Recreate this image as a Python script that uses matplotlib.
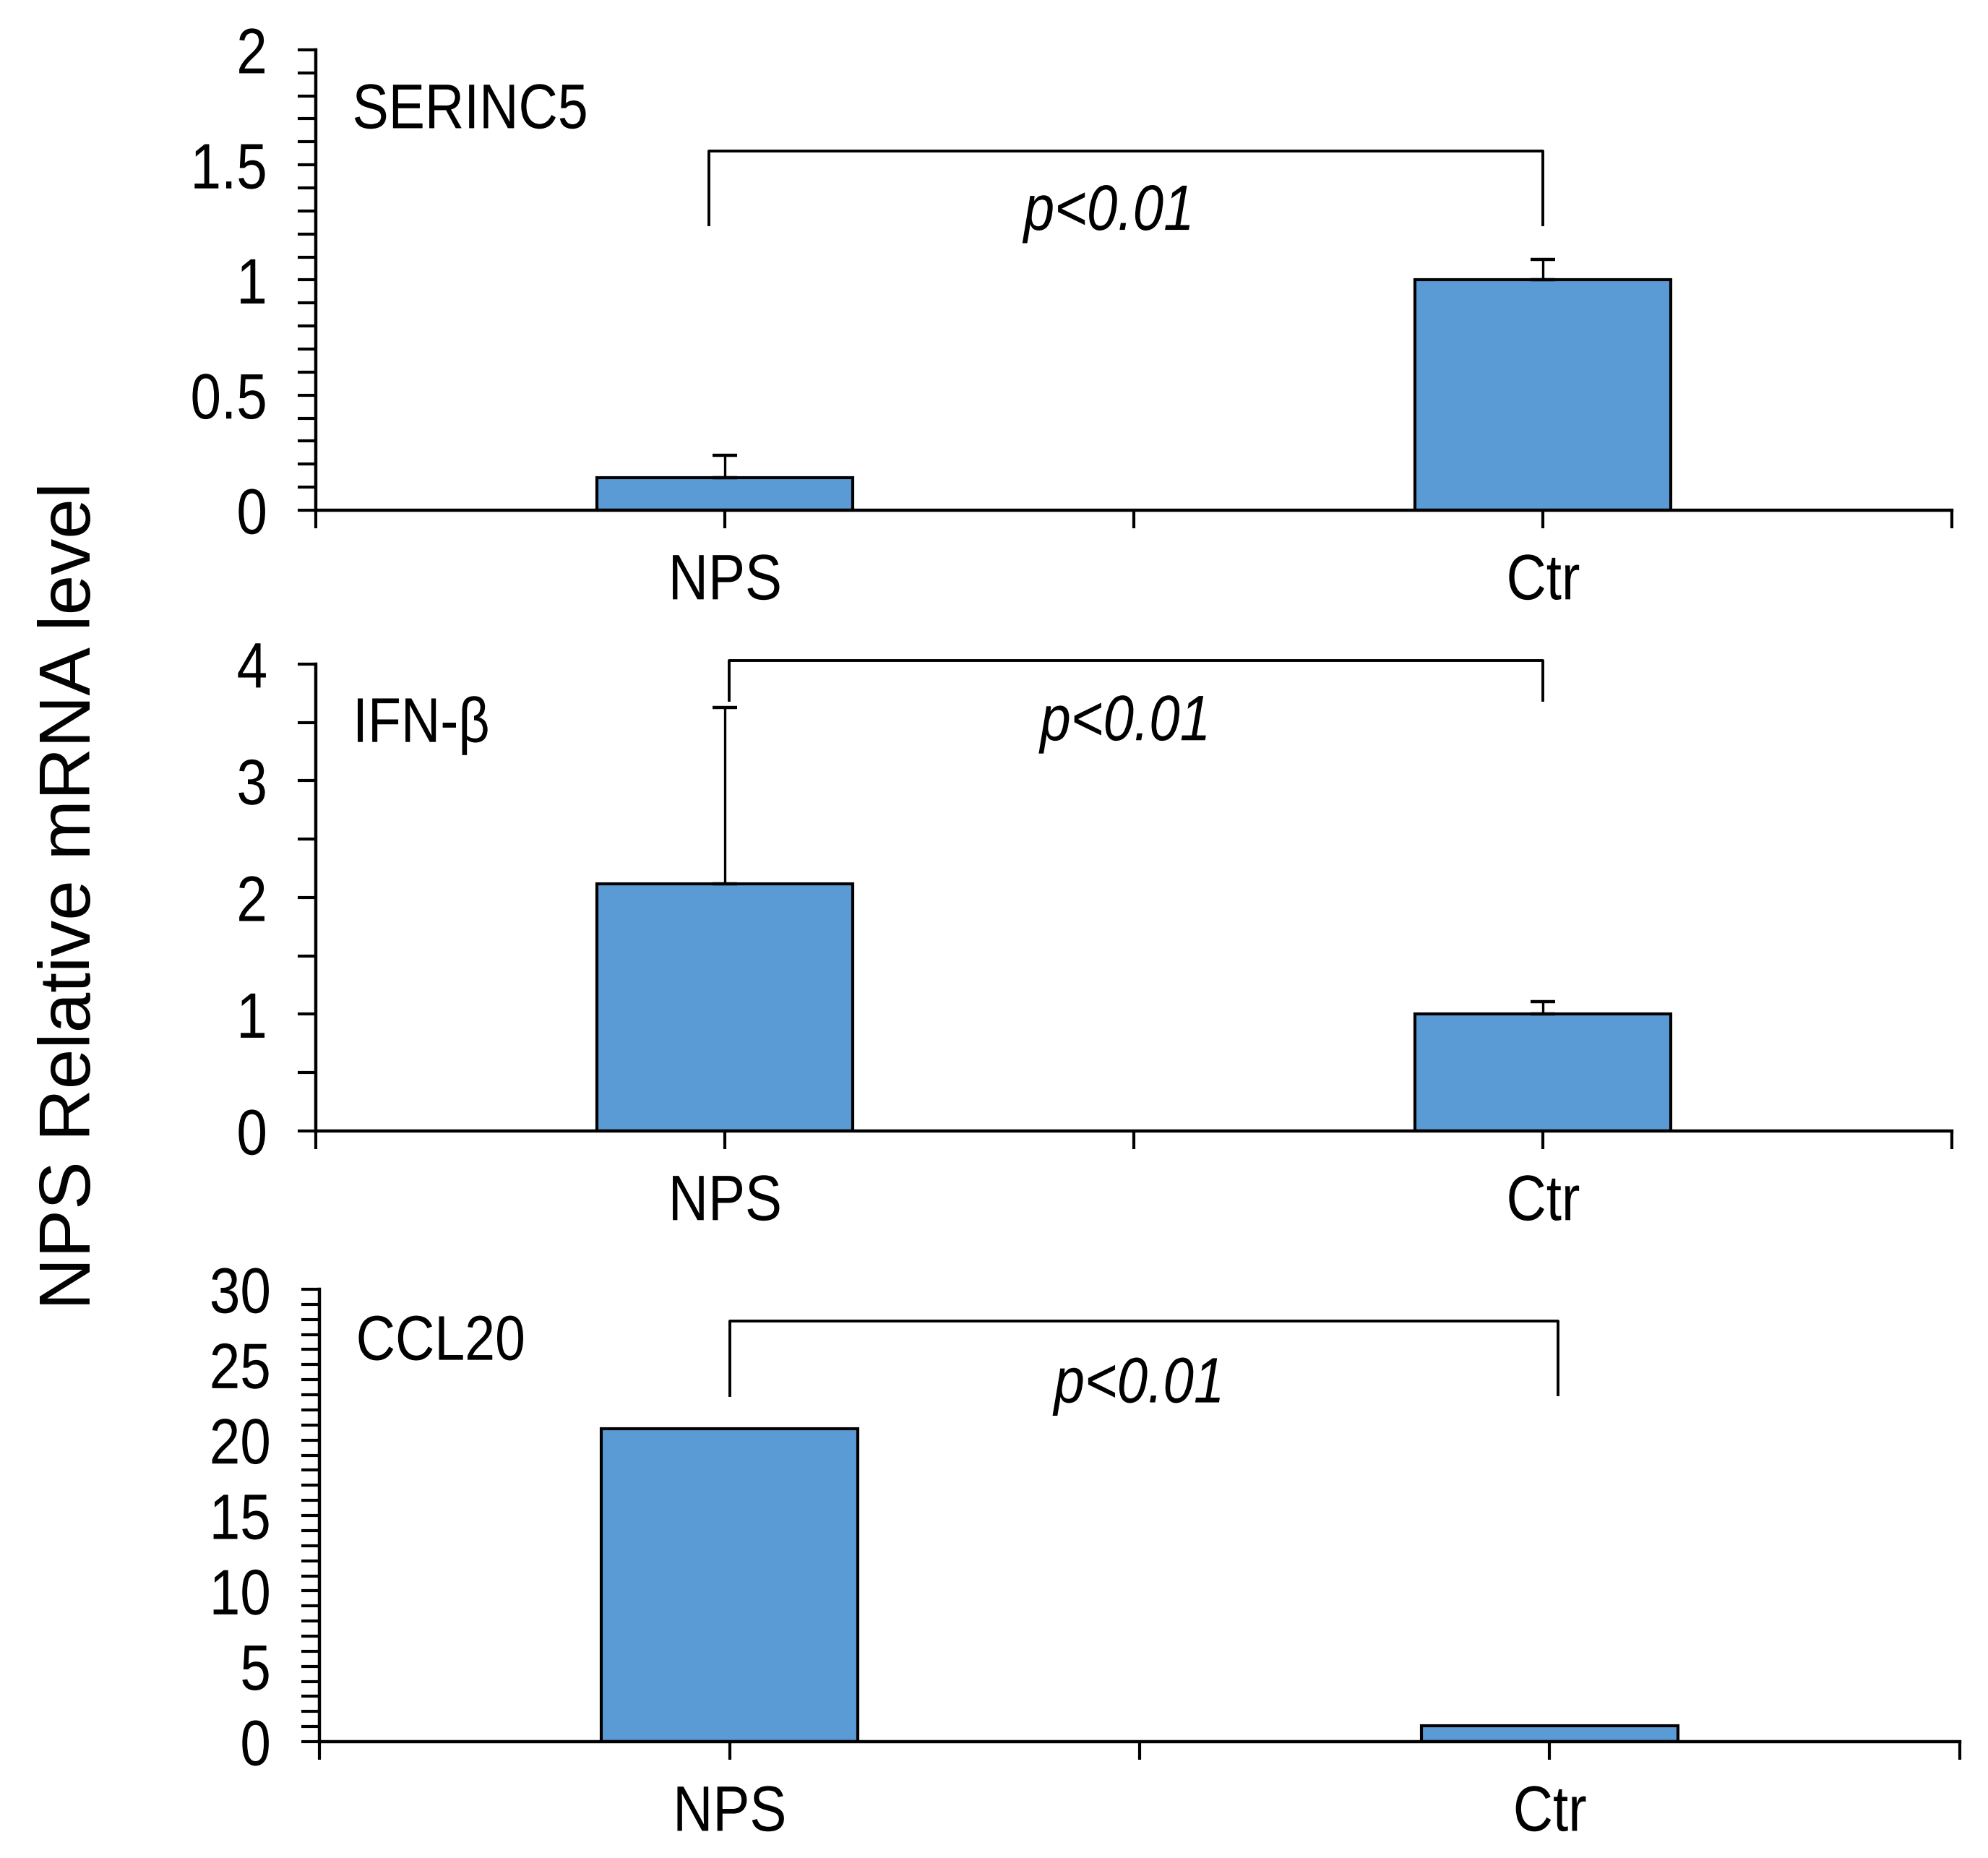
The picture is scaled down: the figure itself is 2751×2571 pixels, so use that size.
import matplotlib
matplotlib.use("Agg")
import matplotlib.pyplot as plt
from matplotlib.ticker import MultipleLocator, FuncFormatter
from matplotlib.patheffects import AbstractPathEffect
from matplotlib.transforms import Affine2D

# values
genes = ["SERINC5", "IFN-β", "CCL20"]
groups = ["NPS", "Ctr"]
means = [[0.14, 1.0], [2.12, 1.0], [20.75, 1.05]]
errs = [[0.10, 0.09], [1.51, 0.11], [0.0, 0.0]]
ymax = [2, 4, 30]
major = [0.5, 1, 5]
minor = [0.1, 0.5, 1]

# significance brackets: top, left leg end, right leg end
br_top = [1.56, 4.03, 27.9]
br_left = [1.24, 3.69, 22.95]
br_right = [1.24, 3.69, 23.0]
br_x0 = [0.98, 1.005, 1.0]
br_x1 = [2.0, 2.0, 2.01]
p_y = [1.29, 3.49, 23.6]
p_x = [1.47, 1.49, 1.5]
p_text = "p<0.01"


class Squeeze(AbstractPathEffect):
    # narrow the glyphs horizontally (no Arial Narrow here)
    def __init__(self, sx=0.86, frac=0.0):
        super().__init__()
        self.sx = sx
        self.frac = frac

    def draw_path(self, renderer, gc, tpath, affine, rgbFace=None):
        ext = tpath.get_extents()
        a = ext.x0 + ext.width * self.frac
        t = Affine2D().scale(self.sx, 1).translate((1 - self.sx) * a, 0) + affine
        renderer.draw_path(gc, tpath, t, rgbFace)


plt.rcParams["font.family"] = ["Liberation Sans", "DejaVu Sans"]

fig = plt.figure(figsize=(27.51, 25.71), dpi=100)
rects = [[0.1589, 0.7254, 0.823, 0.2478],
         [0.1589, 0.3913, 0.823, 0.2513],
         [0.1607, 0.0626, 0.8251, 0.2435]]
label_y = [0.865, 0.868, 0.88]

axes = []
xpos = [1, 2]
for i, g in enumerate(genes):
    ax = fig.add_axes(rects[i])
    axes.append(ax)
    yerr = [[0, 0], errs[i]]
    ax.bar(xpos, means[i], width=0.313, color="#5B9BD5", edgecolor="black",
           linewidth=3, zorder=2)
    if max(errs[i]) > 0:
        ax.errorbar(xpos, means[i], yerr=yerr, fmt="none", ecolor="black",
                    elinewidth=2.4, capsize=12, capthick=3.2, zorder=3)
    ax.set_xlim(0.5, 2.5)
    ax.set_ylim(0, ymax[i])
    ax.set_xticks(xpos)
    ax.set_xticklabels(groups)
    ax.xaxis.set_minor_locator(plt.FixedLocator([0.5, 1.5, 2.5]))
    ax.yaxis.set_major_locator(MultipleLocator(major[i]))
    ax.yaxis.set_minor_locator(MultipleLocator(minor[i]))
    ax.yaxis.set_major_formatter(FuncFormatter(lambda v, p: "%g" % v))
    for s in ["top", "right"]:
        ax.spines[s].set_visible(False)
    for s in ["left", "bottom"]:
        ax.spines[s].set_linewidth(3.2)
    ax.tick_params(which="both", direction="out", length=18, width=3,
                   labelsize=64)
    ax.tick_params(axis="y", pad=30)
    ax.tick_params(axis="x", pad=24)
    ax.text(0.022, label_y[i], g, transform=ax.transAxes, fontsize=63,
            ha="left", va="center", path_effects=[Squeeze(0.86, 0.0)])
    # bracket
    ax.plot([br_x0[i], br_x0[i], br_x1[i], br_x1[i]],
            [br_left[i], br_top[i], br_top[i], br_right[i]],
            color="black", lw=2.8, clip_on=False, zorder=4)
    ax.text(p_x[i], p_y[i], p_text, fontsize=64, style="italic",
            ha="center", va="center", path_effects=[Squeeze(0.86, 0.5)])

fig.text(0.036, 0.518, "NPS Relative mRNA level", rotation=90,
         fontsize=72, ha="center", va="center")

fig.canvas.draw()
for ax in axes:
    for lbl in ax.get_yticklabels():
        lbl.set_path_effects([Squeeze(0.86, 1.0)])
    for lbl in ax.get_xticklabels():
        lbl.set_path_effects([Squeeze(0.86, 0.5)])

fig.savefig("out.png", dpi=100)
